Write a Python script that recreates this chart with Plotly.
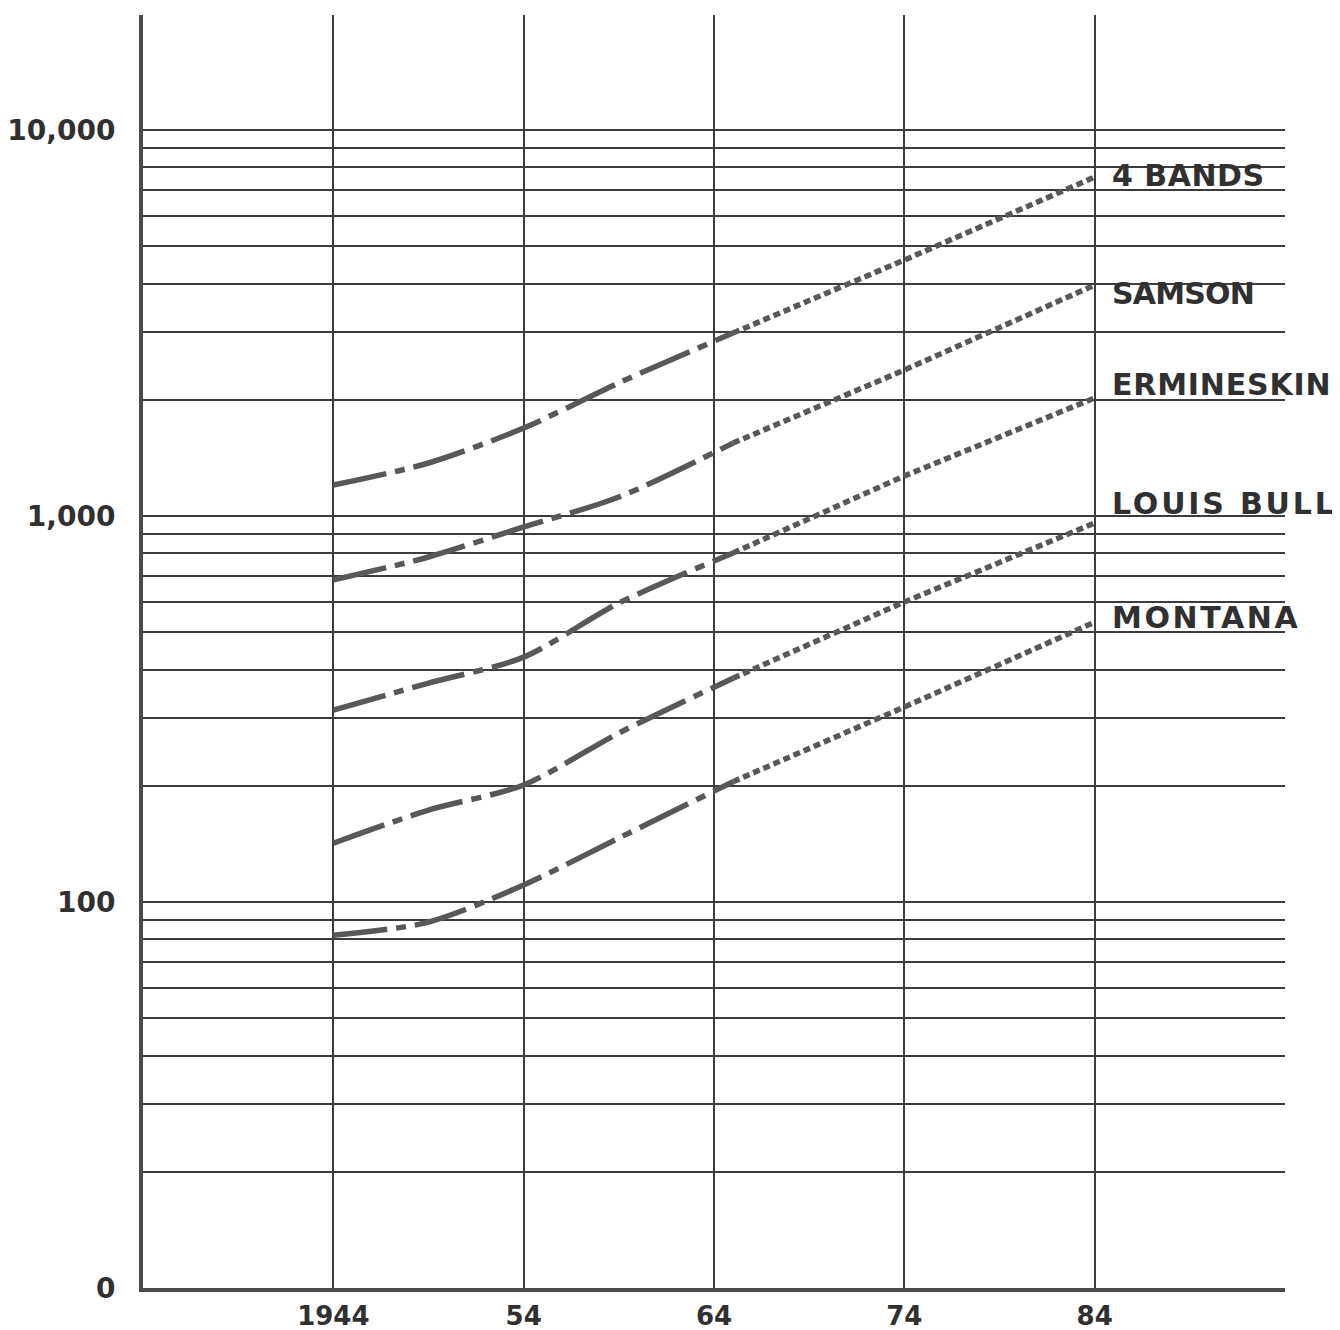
import math
import plotly.graph_objects as go

# ---------------- data ----------------
OBS_YEARS = [1944, 1949, 1954, 1959, 1965]
PROJ_YEARS = [1965, 1974, 1984]

FOUR_BANDS_OBS = [1203, 1372, 1690, 2213, 2980]
FOUR_BANDS_PROJ = [2980, 4605, 7554]

SAMSON_OBS = [683, 783, 937, 1120, 1545]
SAMSON_PROJ = [1545, 2389, 3966]

ERMINESKIN_OBS = [314, 369, 431, 595, 802]
ERMINESKIN_PROJ = [802, 1270, 2022]

LOUIS_BULL_OBS = [142, 173, 201, 274, 380]
LOUIS_BULL_PROJ = [380, 599, 959]

MONTANA_OBS = [82, 88.7, 110.7, 146.5, 205]
MONTANA_PROJ = [205, 320, 531]

SERIES_NAMES = ["4 BANDS", "SAMSON", "ERMINESKIN", "LOUIS BULL", "MONTANA"]

X_TICKS = [1944, 1954, 1964, 1974, 1984]
X_TICK_LABELS = ["1944", "54", "64", "74", "84"]

Y_MAJOR = [10, 100, 1000, 10000]
Y_MAJOR_LABELS = ["0", "100", "1,000", "10,000"]

# ---------------- styling ----------------
LINE_COLOR = "#585858"
GRID_COLOR = "#3c3c3c"
TEXT_COLOR = "#303030"
FONT = "DejaVu Sans"
LABEL_YSHIFT = [2, -8, 13, 20, 5]
LABEL_SPACING = [0.5, -0.8, 0.8, 2.8, 2.6]

obs = [FOUR_BANDS_OBS, SAMSON_OBS, ERMINESKIN_OBS, LOUIS_BULL_OBS, MONTANA_OBS]
proj = [FOUR_BANDS_PROJ, SAMSON_PROJ, ERMINESKIN_PROJ, LOUIS_BULL_PROJ, MONTANA_PROJ]

fig = go.Figure()
for name, o, p in zip(SERIES_NAMES, obs, proj):
    fig.add_trace(go.Scatter(
        x=OBS_YEARS, y=o, mode="lines", name=name, showlegend=False,
        line=dict(color=LINE_COLOR, width=5.5, dash="54px,9px,10px,9px",
                  shape="spline", smoothing=0.8)))
    fig.add_trace(go.Scatter(
        x=PROJ_YEARS, y=p, mode="lines", name=name + " projection",
        showlegend=False,
        line=dict(color=LINE_COLOR, width=5.5, dash="7px,4px")))

# y gridlines at every 1..9 multiple of each decade
y_vals, y_text = [], []
for dec in Y_MAJOR[:-1]:
    for m in range(1, 10):
        v = dec * m
        y_vals.append(v)
        y_text.append(Y_MAJOR_LABELS[Y_MAJOR.index(v)] if v in Y_MAJOR else "")
y_vals.append(Y_MAJOR[-1])
y_text.append(Y_MAJOR_LABELS[-1])

for name, p, ys, ls in zip(SERIES_NAMES, proj, LABEL_YSHIFT, LABEL_SPACING):
    fig.add_annotation(
        x=PROJ_YEARS[-1], y=math.log10(p[-1]), xref="x", yref="y",
        text='<span style="letter-spacing:%spx">%s</span>' % (ls, name),
        showarrow=False, xanchor="left", yanchor="middle",
        xshift=15, yshift=ys,
        font=dict(family=FONT, size=30, color=TEXT_COLOR, weight="bold"))

fig.update_layout(
    width=1340, height=1330,
    margin=dict(l=135, r=63, t=7, b=50),
    paper_bgcolor="white", plot_bgcolor="white",
    font=dict(family=FONT, color=TEXT_COLOR),
    xaxis=dict(
        range=[1934, 1994], tickvals=X_TICKS, ticktext=X_TICK_LABELS,
        showgrid=True, gridcolor=GRID_COLOR, gridwidth=1.5,
        showline=True, linecolor="#4a4a4a", linewidth=4,
        ticks="outside", ticklen=2, tickcolor="rgba(0,0,0,0)",
        tickfont=dict(family=FONT, size=26, color=TEXT_COLOR, weight="bold"),
        zeroline=False, automargin=False),
    yaxis=dict(
        type="log", range=[1, 4.298], tickvals=y_vals, ticktext=y_text,
        showgrid=True, gridcolor=GRID_COLOR, gridwidth=1.5,
        showline=True, linecolor="#4a4a4a", linewidth=4,
        ticks="outside", ticklen=18, tickcolor="rgba(0,0,0,0)",
        tickfont=dict(family=FONT, size=28, color=TEXT_COLOR, weight="bold"),
        zeroline=False, automargin=False),
)

fig.write_html("out.html")
